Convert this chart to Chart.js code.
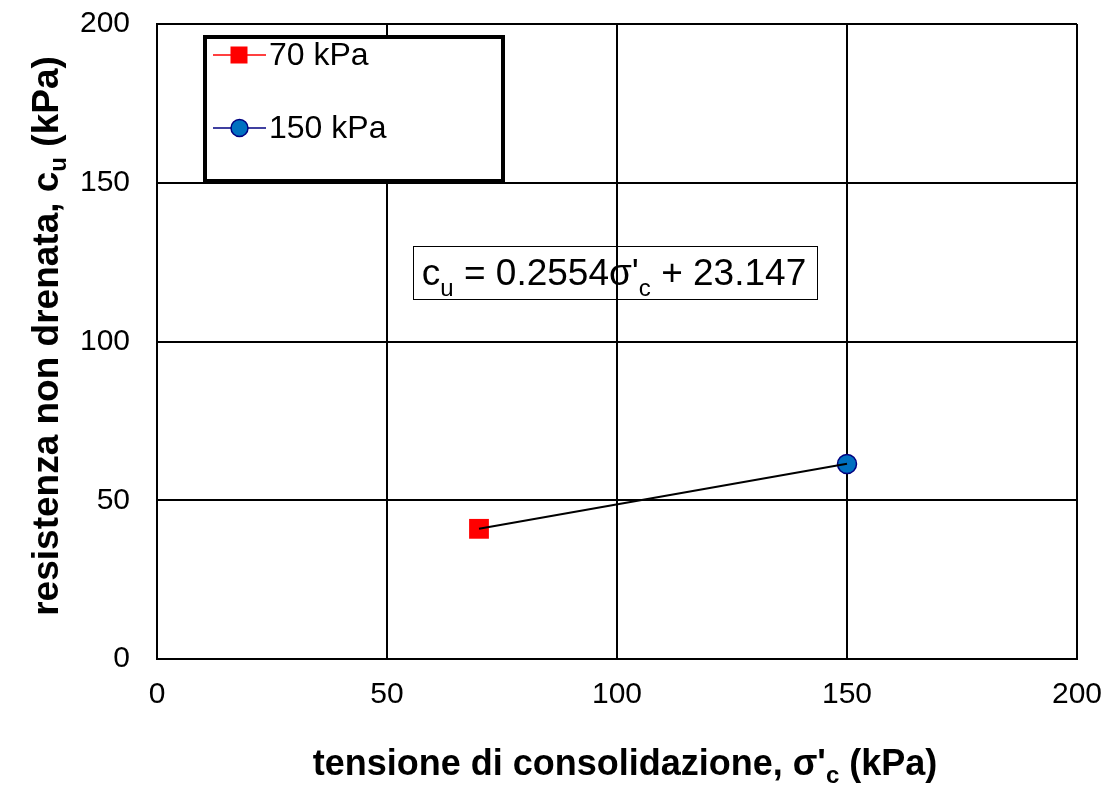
<!DOCTYPE html>
<html>
<head>
<meta charset="utf-8">
<script src="https://cdn.jsdelivr.net/npm/chart.js@4/dist/chart.umd.min.js"></script>
<style>
html,body{margin:0;padding:0;background:#fff;}
#wrap{width:1109px;height:785px;}
</style>
</head>
<body>
<div id="wrap"><canvas id="c" width="1109" height="785"></canvas></div>
<script>
// ---- data ----
const seriesNames = ["70 kPa", "150 kPa"];
const series70 = [{ x: 70, y: 41.0 }];
const series150 = [{ x: 150, y: 61.4 }];
const trendX = [70, 150];
const trendY = [41.0, 61.5];
const xTicks = [0, 50, 100, 150, 200];
const yTicks = [0, 50, 100, 150, 200];
const equationParts = ["c", "u", " = 0.2554σ'", "c", " + 23.147"];
const xTitleParts = ["tensione di consolidazione, σ'", "c", " (kPa)"];
const yTitleParts = ["resistenza non drenata, c", "u", " (kPa)"];

const FONT = 'Arial, "Liberation Sans", sans-serif';

function drawSubText(ctx, parts, size, weight, cx, cy, rotate, subDrop) {
  ctx.save();
  ctx.translate(cx, cy);
  if (rotate) ctx.rotate(-Math.PI / 2);
  const mainF = weight + " " + size + "px " + FONT;
  const subF = weight + " " + Math.round(size * 0.66) + "px " + FONT;
  let total = 0;
  const widths = parts.map((p, i) => {
    ctx.font = (i % 2 === 0) ? mainF : subF;
    const w = ctx.measureText(p).width;
    total += w;
    return w;
  });
  let x = -total / 2;
  ctx.fillStyle = "#000";
  ctx.textBaseline = "alphabetic";
  ctx.textAlign = "left";
  const base = size * 0.36;
  parts.forEach((p, i) => {
    ctx.font = (i % 2 === 0) ? mainF : subF;
    const dy = (i % 2 === 0) ? 0 : size * subDrop;
    ctx.fillText(p, x, base + dy);
    x += widths[i];
  });
  ctx.restore();
  return total;
}

const annotPlugin = {
  id: "annot",
  afterDraw(chart) {
    const ctx = chart.ctx;
    // axis titles
    drawSubText(ctx, xTitleParts, 36, "bold", 625, 762, false, 0.22);
    drawSubText(ctx, yTitleParts, 37, "bold", 45, 336, true, 0.22);

    // equation box
    drawSubText(ctx, equationParts, 37, "normal", 614, 272, false, 0.3);
    ctx.save();
    ctx.strokeStyle = "#000";
    ctx.lineWidth = 1;
    ctx.strokeRect(413.5, 246.5, 404, 53);
    ctx.restore();

    // legend
    ctx.save();
    ctx.strokeStyle = "#000";
    ctx.lineWidth = 4;
    ctx.fillStyle = "#fff";
    ctx.fillRect(205, 37, 298, 144);
    ctx.strokeRect(205, 37, 298, 144);
    const items = [
      { y: 55, line: "#FF0000", style: "rect", fill: "#FF0000", border: "#FF0000" },
      { y: 128, line: "#000080", style: "circle", fill: "#0070C0", border: "#000080" }
    ];
    items.forEach((it, i) => {
      ctx.strokeStyle = it.line;
      ctx.lineWidth = 1.5;
      ctx.beginPath();
      ctx.moveTo(213, it.y);
      ctx.lineTo(266, it.y);
      ctx.stroke();
      if (it.style === "rect") {
        ctx.fillStyle = it.fill;
        ctx.fillRect(230.5, it.y - 8.5, 17, 17);
      } else {
        ctx.beginPath();
        ctx.arc(239.5, it.y, 8.5, 0, Math.PI * 2);
        ctx.fillStyle = it.fill;
        ctx.fill();
        ctx.lineWidth = 1.5;
        ctx.strokeStyle = it.border;
        ctx.stroke();
      }
      ctx.fillStyle = "#000";
      ctx.font = "32px " + FONT;
      ctx.textBaseline = "middle";
      ctx.textAlign = "left";
      ctx.fillText(seriesNames[i], 269, it.y + 1);
    });
    ctx.restore();
  }
};

new Chart(document.getElementById("c"), {
  type: "scatter",
  data: {
    datasets: [
      {
        label: "trend",
        data: trendX.map((x, i) => ({ x: x, y: trendY[i] })),
        showLine: true,
        borderColor: "#000",
        borderWidth: 2,
        pointRadius: 0,
        pointHoverRadius: 0,
        order: 0
      },
      {
        label: seriesNames[0],
        data: series70,
        pointStyle: "rect",
        pointRadius: 14,
        backgroundColor: "#FF0000",
        borderColor: "#FF0000",
        borderWidth: 0,
        order: 1
      },
      {
        label: seriesNames[1],
        data: series150,
        pointStyle: "circle",
        pointRadius: 9.5,
        backgroundColor: "#0070C0",
        borderColor: "#000080",
        borderWidth: 1.5,
        order: 1
      }
    ]
  },
  options: {
    responsive: false,
    animation: false,
    devicePixelRatio: 1,
    layout: { padding: { top: 24, right: 32, bottom: 0, left: 0 } },
    plugins: { legend: { display: false }, tooltip: { enabled: false } },
    scales: {
      x: {
        type: "linear",
        min: 0, max: 200,
        afterFit(s) { s.height = 126; s.paddingLeft = 0; s.paddingRight = 0; },
        afterBuildTicks(s) { s.ticks = xTicks.map(v => ({ value: v })); },
        grid: { color: "#000", lineWidth: 2, drawTicks: false },
        border: { color: "#000", width: 2 },
        ticks: { color: "#000", font: { family: FONT, size: 30 }, padding: 18, maxRotation: 0 }
      },
      y: {
        type: "linear",
        min: 0, max: 200,
        afterFit(s) { s.width = 157; s.paddingTop = 0; s.paddingBottom = 0; },
        afterBuildTicks(s) { s.ticks = yTicks.map(v => ({ value: v })); },
        grid: { color: "#000", lineWidth: 2, drawTicks: false },
        border: { color: "#000", width: 2 },
        ticks: { color: "#000", font: { family: FONT, size: 30 }, padding: 27 }
      }
    }
  },
  plugins: [annotPlugin]
});
</script>
</body>
</html>
